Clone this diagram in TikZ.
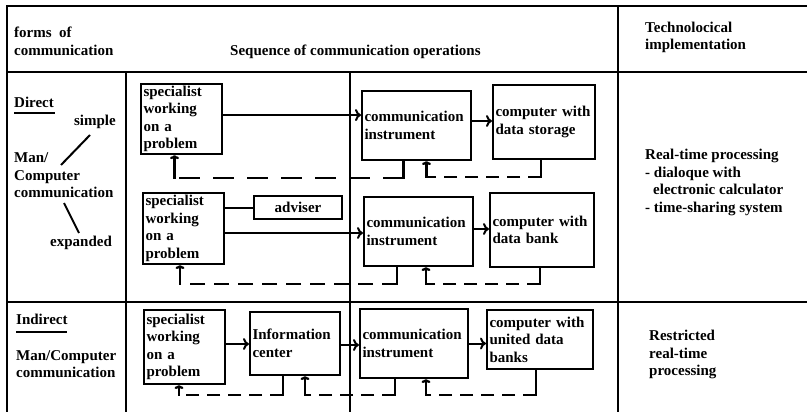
\documentclass[tikz,border=0pt]{standalone}
\usepackage{fontspec}
\setmainfont{Liberation Serif}
\usetikzlibrary{arrows.meta,calc}

\tikzset{
  rule/.style={line width=2.5pt},
  thinrule/.style={line width=2pt},
  blk/.style={draw, line width=2pt, anchor=north west, align=left,
    inner xsep=2.5pt, inner ysep=2pt},
  txt/.style={anchor=base west, inner sep=0pt, align=left},
  flow/.style={line width=2pt, -{To[length=6pt,width=12pt]}},
  stem/.style={line width=2.3pt, line cap=rect},
  back/.style={line width=2.3pt, dash pattern=on 13pt off 8pt},
  longback/.style={back, dash pattern=on 21pt off 13pt},
  backtip/.style={stem, -{To[length=4pt,width=9pt]}},
}
% return path: [dash style]{from}{drop}{to}
\newcommand{\retpath}[4][]{%
  \path (#2) coordinate (rs) ++(0,#3) coordinate (ra);
  \path (#4) coordinate (rt);
  \path (ra -| rt) coordinate (rb);
  \draw[stem] (rs) -- (ra);
  \draw[back,#1] (ra) -- (rb);
  \draw[backtip] (rb) -- (rt);
}

\begin{document}
\begin{tikzpicture}[x=1pt, y=-1pt, font=\bfseries\fontsize{15}{17.5}\selectfont]
			%%%%% FRAME %%%%%
			\useasboundingbox (0,0) rectangle (807,412);
			
			\draw[rule] (7,412) -- (7,6) -- (807,6);
			\draw[rule] (7,72) -- (807,72);
			\draw[rule] (7,302) -- (807,302);
			\draw[rule] (126,72) -- (126,412);
			\draw[rule] (618,6) -- (618,412);
			\draw[thinrule] (350,72) -- (350,412);
			
			%%%%% HEADER %%%%%
			\node[txt] (hforms) at (14,38) {forms\enspace of};
			\node[txt] (hcomm) at (14,56) {communication};
			\node[txt] (hseq) at (230,56) {Sequence of communication operations};
			\node[txt] (htech) at (645,33) {Technolocical};
			\node[txt] (himpl) at (645,50) {implementation};
			
			%%%%% LEFT COLUMN %%%%%
			\node[txt] (direct) at (14,108) {Direct};
			\draw[line width=2pt] (direct.south west) ++(0,5) -- ++(41,0);
			\node[txt, anchor=base east] (simple) at (116,125) {simple};
			\node[txt] (man1) at (14,163) {Man/};
			\node[txt] (man2) at (14,180) {Computer};
			\node[txt] (man3) at (14,197) {communication};
			\node[txt] (expanded) at (50,246) {expanded};
			\coordinate (s0) at (61,165);
			\coordinate (s1) at (90,135);
			\coordinate (e0) at (64,203);
			\coordinate (e1) at (79,233);
			\draw[line width=2pt] (s0) -- (s1);
			\draw[line width=2pt] (e0) -- (e1);
			
			\node[txt] (indirect) at (16,324) {Indirect};
			\draw[line width=2pt] (indirect.south west) ++(0,8) -- ++(51,0);
			\node[txt] (mc1) at (16,360) {Man/Computer};
			\node[txt] (mc2) at (16,377) {communication};
			
			%%%%% DIRECT, SIMPLE %%%%%
			\node[blk, text width=76pt, minimum height=70pt] (sp1) at (140,83) {specialist\\working\\on a\\problem};
			\node[blk, text width=104pt, minimum height=69pt] (ci1) at (361,90) {communication\\instrument\\[5pt]};
			\node[blk, text width=97pt, minimum height=74pt] (cs1) at (492,84) {computer with\\data storage\\[12pt]};
			
			\path ([yshift=4pt]sp1.east) coordinate (f1);
			\draw[flow] (f1) -- (f1 -| ci1.west);
			\path ([yshift=4.5pt]ci1.east) coordinate (f2);
			\draw[flow] (f2) -- (f2 -| cs1.west);
			\retpath{[xshift=-3pt]cs1.south}{17}{[xshift=10pt]ci1.south}
			\retpath[longback]{[xshift=-13pt]ci1.south}{17}{[xshift=-7pt]sp1.south}
			
			%%%%% DIRECT, EXPANDED %%%%%
			\node[blk, text width=76pt, minimum height=71pt] (sp2) at (142,192) {specialist\\working\\on a\\problem\\[3pt]};
			\node[blk, text width=83pt, minimum height=23pt, align=center] (adv) at (253,195) {adviser};
			\node[blk, text width=104pt, minimum height=69pt] (ci2) at (363,196) {communication\\instrument\\[8pt]};
			\node[blk, text width=99pt, minimum height=74pt] (cb2) at (489,192) {computer with\\data bank\\[16pt]};
			
			\draw[line width=2pt] (adv.west -| sp2.east) -- (adv.west);
			\path ([yshift=-4.5pt]sp2.east) coordinate (f3);
			\draw[flow] (f3) -- (f3 -| ci2.west);
			\path ([yshift=2.5pt]ci2.east) coordinate (f4);
			\draw[flow] (f4) -- (f4 -| cb2.west);
			\retpath{[xshift=-2pt]cb2.south}{16}{[xshift=7.5pt]ci2.south}
			\retpath[dash pattern=on 15pt off 9pt]{[xshift=-21.5pt]ci2.south}{17}{[xshift=-3.5pt]sp2.south}
			
			%%%%% INDIRECT %%%%%
			\node[blk, text width=76pt, minimum height=74pt] (sp3) at (143,309) {specialist\\working\\on a\\problem\\[4pt]};
			\node[blk, text width=85pt, minimum height=63pt] (ic3) at (249,311) {Information\\center\\[10pt]};
			\node[blk, text width=103pt, minimum height=69pt] (ci3) at (359,308) {communication\\instrument\\[6pt]};
			\node[blk, text width=101pt, minimum height=59pt] (cu3) at (486,309) {computer with\\united data\\banks};
			
			\path ([yshift=3pt]sp3.east) coordinate (f5);
			\draw[flow] (f5) -- (f5 -| ic3.west);
			\path ([yshift=-1.5pt]ic3.east) coordinate (f6);
			\draw[flow] (f6) -- (f6 -| ci3.west);
			\draw[flow] (ci3.east) -- (ci3.east -| cu3.west);
			\retpath{[xshift=-4pt]cu3.south}{25}{[xshift=12pt]ci3.south}
			\retpath{[xshift=-19pt]ci3.south}{16}{[xshift=10pt]ic3.south}
			\retpath{[xshift=-12pt]ic3.south}{19}{[xshift=-5.5pt]sp3.south}
			
			%%%%% RIGHT COLUMN %%%%%
			\node[txt] (rt1) at (645,159) {Real-time processing};
			\node[txt] (rt2) at (645,177) {- dialoque with};
			\node[txt] (rt3) at (653,194) {electronic calculator};
			\node[txt] (rt4) at (645,212) {- time-sharing system};
			
			\node[txt] (rs1) at (649,340) {Restricted};
			\node[txt] (rs2) at (649,358) {real-time};
			\node[txt] (rs3) at (649,375) {processing};
			
			%%%%% END %%%%%
\end{tikzpicture}
\end{document}
